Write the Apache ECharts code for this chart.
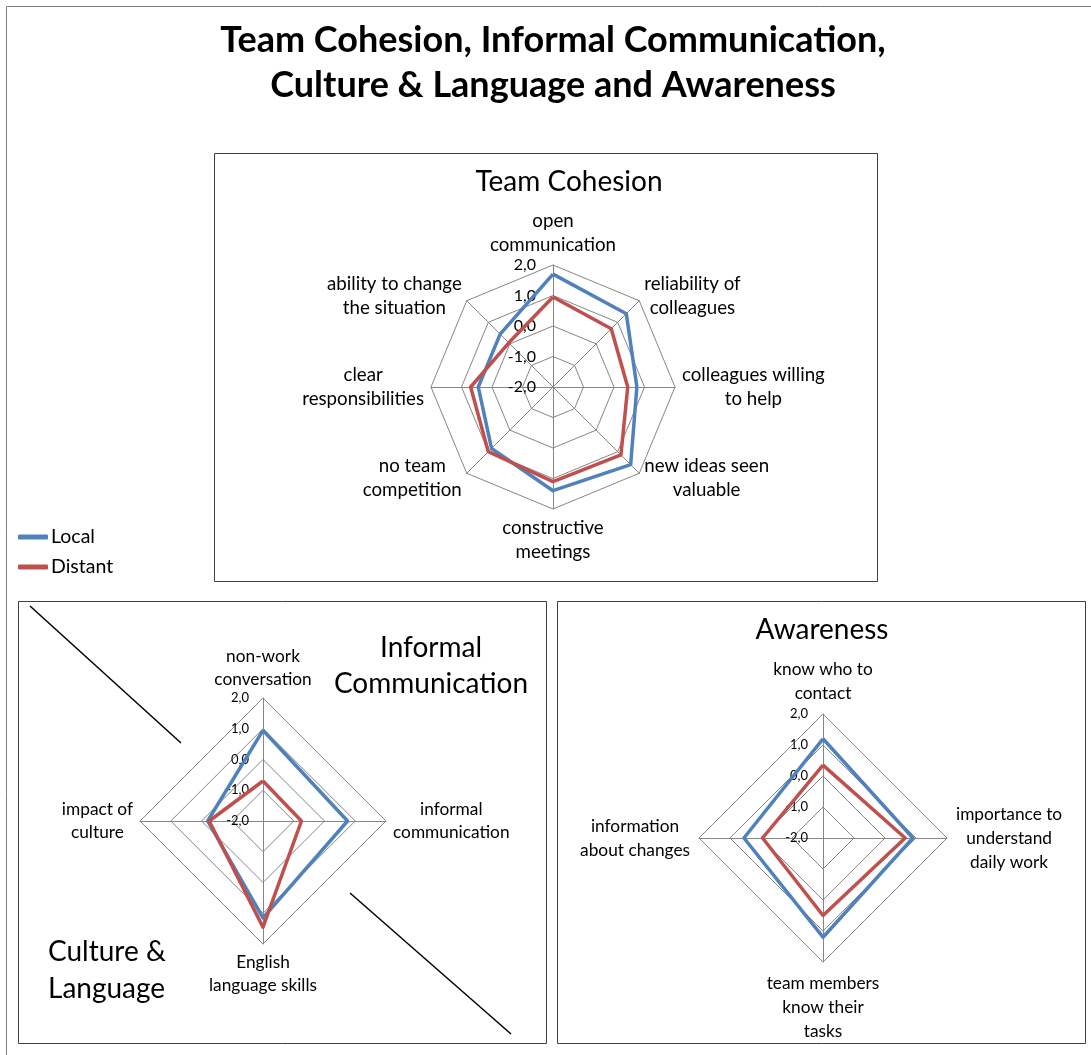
<!DOCTYPE html>
<html><head><meta charset="utf-8">
<script src="https://cdn.jsdelivr.net/npm/echarts@6/dist/echarts.min.js"></script>
<style>html,body{margin:0;padding:0;background:#fff}#c{width:1091px;height:1055px}</style>
</head><body><div id="c"></div>
<script>
// ---- data (indicators listed clockwise starting at the top) ----
const seriesNames = ['Local', 'Distant'];
const scaleMin = -2, scaleMax = 2, scaleSteps = 4;

const cohesionCats = ['open\ncommunication', 'reliability of\ncolleagues', 'colleagues willing\nto help', 'new ideas seen\nvaluable', 'constructive\nmeetings', 'no team\ncompetition', 'clear\nresponsibilities', 'ability to change\nthe situation'];
const cohesionLocal   = [1.7, 1.4, 0.75, 1.6, 1.4, 0.85, 0.45, 0.45];
const cohesionDistant = [0.95, 0.7, 0.45, 1.15, 1.1, 1.0, 0.7, 0.05];

const informalCats = ['non-work\nconversation', 'informal\ncommunication', 'English\nlanguage skills', 'impact of\nculture'];
const informalLocal   = [0.95, 0.75, 1.15, -0.2];
const informalDistant = [-0.7, -0.75, 1.45, -0.25];

const awarenessCats = ['know who to\ncontact', 'importance to\nunderstand\ndaily work', 'team members\nknow their\ntasks', 'information\nabout changes'];
const awarenessLocal   = [1.2, 0.9, 1.2, 0.55];
const awarenessDistant = [0.35, 0.65, 0.5, -0.05];

const titleLines = ['Team Cohesion, Informal Communication,', 'Culture & Language and Awareness'];

// ---- styling ----
const F = 'Lato, "Open Sans", sans-serif';
const BLUE = '#4F81BD', RED = '#C0504D', GRID = '#868686';

function ccw(arr) { return [arr[0]].concat(arr.slice(1).reverse()); }
function fmt(v) { return Number(v).toFixed(1).replace('.', ','); }

function makeRadar(cats, center, radius, nameSize, lh, labelSize, labelMargin, gap) {
  return {
    center: center, radius: radius, shape: 'polygon', splitNumber: scaleSteps, startAngle: 90,
    indicator: ccw(cats).map((n, i) => ({ name: n, min: scaleMin, max: scaleMax, axisLabel: { show: i === 0 } })),
    nameGap: gap,
    axisName: {
      color: '#000', fontFamily: F, fontSize: nameSize, lineHeight: lh,
      formatter: function (name) { return name.split('\n').map(l => '{c|' + l + '}').join('\n'); },
      rich: { c: { align: 'center', fontSize: nameSize, lineHeight: lh, fontFamily: F, color: '#000' } }
    },
    splitLine: { lineStyle: { color: GRID, width: 1 } },
    splitArea: { show: false },
    axisLine: { lineStyle: { color: GRID, width: 1 } },
    axisTick: { show: false },
    axisLabel: { show: false, formatter: fmt, color: '#000', fontSize: labelSize, fontFamily: F, margin: labelMargin, showMinLabel: true, showMaxLabel: true, hideOverlap: false }
  };
}

function makeSeries(idx, local, distant) {
  return {
    type: 'radar', radarIndex: idx, symbol: 'none', silent: true,
    data: [
      { name: seriesNames[0], value: ccw(local), lineStyle: { color: BLUE, width: 3.5 }, itemStyle: { color: BLUE } },
      { name: seriesNames[1], value: ccw(distant), lineStyle: { color: RED, width: 3.5 }, itemStyle: { color: RED } }
    ]
  };
}

const chart = echarts.init(document.getElementById('c'), null, { renderer: 'canvas' });
chart.setOption({
  animation: false,
  backgroundColor: '#fff',
  color: [BLUE, RED],
  title: [
    { text: titleLines.join('\n'), left: 553, top: 18, textAlign: 'center', padding: 0,
      textStyle: { fontFamily: F, fontWeight: 'bold', fontSize: 36, lineHeight: 45, color: '#000' } },
    { text: 'Team Cohesion', left: 569, top: 168, textAlign: 'center', padding: 0,
      textStyle: { fontFamily: F, fontWeight: 'normal', fontSize: 28, color: '#000' } },
    { text: 'Informal\nCommunication', left: 431, top: 630, textAlign: 'center', padding: 0,
      textStyle: { fontFamily: F, fontWeight: 'normal', fontSize: 28, lineHeight: 36, color: '#000' } },
    { text: 'Culture &\nLanguage', left: 48, top: 933, textAlign: 'left', padding: 0,
      textStyle: { fontFamily: F, fontWeight: 'normal', fontSize: 28, lineHeight: 37, color: '#000' } },
    { text: 'Awareness', left: 822, top: 616, textAlign: 'center', padding: 0,
      textStyle: { fontFamily: F, fontWeight: 'normal', fontSize: 28, color: '#000' } }
  ],
  legend: {
    orient: 'vertical', left: 13, top: 522, itemWidth: 30, itemHeight: 5, itemGap: 10,
    icon: 'roundRect', data: seriesNames,
    textStyle: { fontFamily: F, fontSize: 19.5, color: '#000', padding: [0, 0, 0, -2] }
  },
  radar: [
    makeRadar(cohesionCats, [553, 387], 122, 18.7, 24, 16, 17, 7),
    makeRadar(informalCats, [263, 821], 123, 17.3, 23, 13, 14, 7),
    makeRadar(awarenessCats, [823, 838], 124, 17.3, 24, 13, 15, 9)
  ],
  series: [
    makeSeries(0, cohesionLocal, cohesionDistant),
    makeSeries(1, informalLocal, informalDistant),
    makeSeries(2, awarenessLocal, awarenessDistant)
  ],
  graphic: [
    { type: 'rect', shape: { x: 6.5, y: 6.5, width: 1100, height: 1100 }, style: { fill: null, stroke: '#7f7f7f', lineWidth: 1 }, silent: true, z: -10 },
    { type: 'rect', shape: { x: 214.5, y: 153.5, width: 663, height: 428 }, style: { fill: null, stroke: '#404040', lineWidth: 1 }, silent: true, z: -10 },
    { type: 'rect', shape: { x: 18.5, y: 601.5, width: 528, height: 442 }, style: { fill: null, stroke: '#404040', lineWidth: 1 }, silent: true, z: -10 },
    { type: 'rect', shape: { x: 557.5, y: 601.5, width: 528, height: 442 }, style: { fill: null, stroke: '#404040', lineWidth: 1 }, silent: true, z: -10 },
    { type: 'line', shape: { x1: 30, y1: 606, x2: 181, y2: 743 }, style: { stroke: '#000', lineWidth: 1.5 }, silent: true },
    { type: 'line', shape: { x1: 350, y1: 893, x2: 511, y2: 1034 }, style: { stroke: '#000', lineWidth: 1.5 }, silent: true }
  ]
});
</script>
</body></html>
